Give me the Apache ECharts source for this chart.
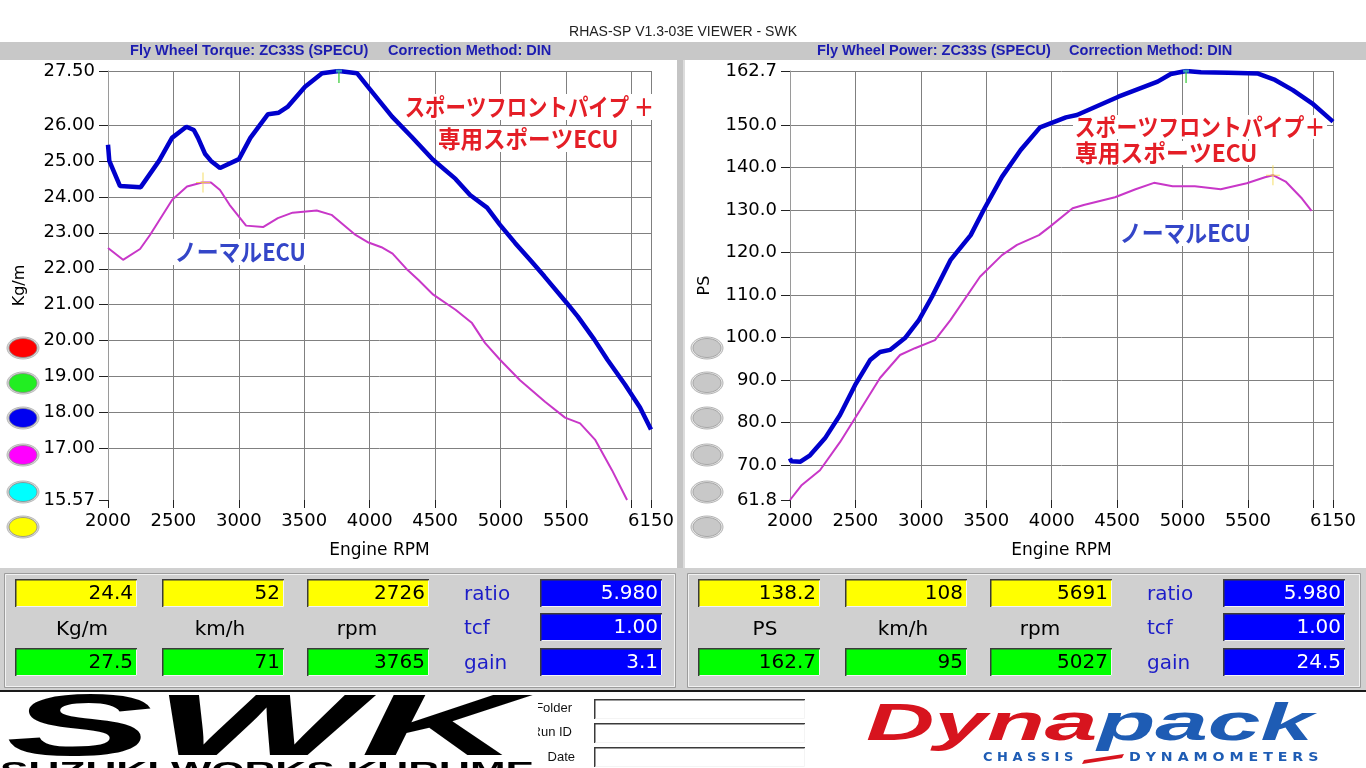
<!DOCTYPE html>
<html><head><meta charset="utf-8">
<script src="https://cdn.jsdelivr.net/npm/echarts@6/dist/echarts.min.js"></script>
<style>html,body{margin:0;padding:0;background:#fff;overflow:hidden}#c{width:1366px;height:768px}</style>
</head><body><div id="c"></div>
<script>
// ---------- data ----------
const sportTorqueRpm = [2000,2010,2092,2250,2390,2489,2599,2656,2688,2741,2787,2856,3001,3088,3223,3305,3372,3506,3636,3765,3903,3987,4171,4320,4484,4656,4767,4897,4996,5111,5237,5335,5506,5591,5717,5817,5951,6066,6150];
const sportTorque    = [25.45,25.0,24.3,24.27,25.0,25.64,25.95,25.86,25.64,25.2,25.0,24.8,25.05,25.64,26.3,26.34,26.5,27.06,27.44,27.5,27.44,27.06,26.23,25.67,25.03,24.5,24.05,23.7,23.22,22.72,22.2,21.79,21.05,20.67,20.03,19.47,18.78,18.14,17.53];
const normalTorqueRpm = [2000,2115,2245,2321,2491,2604,2718,2787,2856,2929,3055,3185,3298,3411,3595,3708,3892,3991,4090,4175,4288,4373,4486,4656,4782,4881,4996,5149,5340,5493,5608,5722,5852,5967];
const normalTorque    = [22.58,22.25,22.55,22.94,23.92,24.29,24.4,24.4,24.19,23.78,23.2,23.16,23.41,23.56,23.62,23.5,22.94,22.73,22.6,22.42,21.97,21.69,21.28,20.86,20.49,19.94,19.47,18.9,18.3,17.86,17.7,17.25,16.4,15.57];
const sportPowerRpm = [2000,2010,2080,2153,2267,2382,2497,2612,2688,2764,2879,2985,3085,3226,3381,3480,3620,3763,3911,4109,4193,4510,4810,4910,5027,5141,5350,5577,5707,5843,5990,6150];
const sportPower    = [71.6,70.9,70.8,72.3,76.3,81.8,88.8,94.7,96.6,97.1,99.9,104.1,109.6,118.2,124.1,130.0,137.8,144.1,149.45,151.8,152.35,156.65,160.2,162.0,162.7,162.4,162.3,162.1,160.6,158.2,155.1,150.8];
const normalPowerRpm = [2000,2086,2229,2382,2535,2688,2841,2955,3108,3226,3452,3620,3735,3903,3987,4160,4245,4484,4641,4782,4924,5094,5292,5491,5630,5691,5788,5913,5986];
const normalPower    = [61.8,65.2,68.8,75.4,82.9,90.5,95.9,97.5,99.4,104.1,114.3,119.4,121.8,124.1,126.1,130.4,131.2,133.0,134.9,136.4,135.6,135.6,134.9,136.3,137.7,138.2,136.7,132.7,129.8];

// cursor points (from the readouts)
const torqueCursorNormal = [2726, 24.4];
const torqueCursorSport  = [3765, 27.5];
const powerCursorNormal  = [5691, 138.2];
const powerCursorSport   = [5027, 162.7];

// tick labels
const rpmLabels = [2000,2500,3000,3500,4000,4500,5000,5500,6150];
const torqueLabels = [15.57,17,18,19,20,21,22,23,24,25,26,27.5];
const powerLabels = [61.8,70,80,90,100,110,120,130,140,150,162.7];

// readout texts
const leftTop = ['24.4','52','2726'];
const leftBottom = ['27.5','71','3765'];
const leftUnits = ['Kg/m','km/h','rpm'];
const leftParams = ['5.980','1.00','3.1'];
const rightTop = ['138.2','108','5691'];
const rightBottom = ['162.7','95','5027'];
const rightUnits = ['PS','km/h','rpm'];
const rightParams = ['5.980','1.00','24.5'];
const paramNames = ['ratio','tcf','gain'];

const zip = (a,b) => a.map((v,i)=>[v,b[i]]);
const has = (arr,v) => arr.some(l => Math.abs(l - v) < 1e-6);

// ---------- graphic helpers ----------
const G = [];
function rect(x,y,w,h,fill,z,stroke,lw){ G.push({type:'rect', z:z, silent:true, shape:{x:x,y:y,width:w,height:h}, style:{fill:fill, stroke:stroke||null, lineWidth:lw||0}}); }
function pline(pts,stroke,lw,z){ G.push({type:'polyline', z:z, silent:true, shape:{points:pts}, style:{stroke:stroke, lineWidth:lw, fill:'none'}}); }
function txt(x,y,text,o){
  const st = {text:text, fontSize:o.size, fontFamily:o.family||'"Liberation Sans"', fontWeight:o.weight||'normal', fontStyle:o.fstyle||'normal', fill:o.color||'#000',
    align:o.align||'left', verticalAlign:o.va||'middle', textAlign:o.align||'left', textVerticalAlign:o.va||'middle'};
  if (o.bg) { st.backgroundColor = o.bg; st.padding = o.pad || [1,3]; }
  if (o.rich) st.rich = o.rich;
  G.push({type:'text', x:x, y:y, z:(o.z!=null?o.z:5), scaleX:o.scaleX||1, silent:true, style:st});
}
function sunken(x,y,w,h,fill){
  rect(x,y,w,h,fill,2);
  pline([[x+0.75,y+h],[x+0.75,y+0.75],[x+w,y+0.75]],'#3a3a3a',1.5,3);
  pline([[x+w-0.5,y+1.5],[x+w-0.5,y+h-0.5],[x+1.5,y+h-0.5]],'#f4f4f4',1,3);
}

// backgrounds
rect(0,0,1366,42,'#ffffff',-10);
rect(0,42,1366,18,'#c8c8c8',-10);
rect(0,60,1366,508,'#c4c4c4',-10);
rect(0,60,677,508,'#ffffff',-9);
rect(683,60,683,508,'#ffffff',-9);
pline([[684,60],[684,568]],'#dcdcdc',2,-8);
rect(0,568,1366,123,'#d0d0d0',-10);
rect(4.5,573.5,671,114,'none',-8,'#9c9c9c',1);
rect(5.5,574.5,669,112,'none',-8,'#f2f2f2',1);
rect(687.5,573.5,673,114,'none',-8,'#9c9c9c',1);
rect(688.5,574.5,671,112,'none',-8,'#f2f2f2',1);
rect(0,691,1366,77,'#ffffff',-10);
pline([[0,691],[1366,691]],'#1a1a1a',2,-7);

// title + headers
txt(683,32,'RHAS-SP V1.3-03E VIEWER - SWK',{size:14,color:'#222',align:'center'});
const hdr = {size:14,weight:'bold',color:'#1c1cb0',scaleX:1.04};
txt(130,51,'Fly Wheel Torque: ZC33S (SPECU)',hdr);
txt(388,51,'Correction Method: DIN',hdr);
txt(817,51,'Fly Wheel Power: ZC33S (SPECU)',hdr);
txt(1069,51,'Correction Method: DIN',hdr);

// legend ellipses
const leftDots = ['#ff0000','#22ee22','#0000f0','#ff00ff','#00ffff','#ffff00'];
const dotY = [348,383,418,455,492,527];
dotY.forEach((y,i)=>{
  G.push({type:'ellipse', z:1, silent:true, shape:{cx:23,cy:y,rx:16,ry:11}, style:{fill:'#d8d8d8', stroke:'#b8b8b8', lineWidth:1}});
  G.push({type:'ellipse', z:2, silent:true, shape:{cx:23,cy:y,rx:14,ry:9.5}, style:{fill:leftDots[i], stroke:'#888', lineWidth:0.8}});
  G.push({type:'ellipse', z:1, silent:true, shape:{cx:707,cy:y,rx:16,ry:11}, style:{fill:'#e6e6e6', stroke:'#b4b4b4', lineWidth:1}});
  G.push({type:'ellipse', z:2, silent:true, shape:{cx:707,cy:y,rx:14,ry:9.5}, style:{fill:'#c8c8c8', stroke:'#9a9a9a', lineWidth:0.8}});
});

// readouts
function readouts(ox, top, bottom, units, params){
  const bx = [15,162,307];
  bx.forEach((x,i)=>{
    sunken(ox+x,579,122,28,'#ffff00');
    txt(ox+x+118,593.5,top[i],{size:20,family:'"DejaVu Sans"',align:'right'});
    sunken(ox+x,648,122,28,'#00ff00');
    txt(ox+x+118,662.5,bottom[i],{size:20,family:'"DejaVu Sans"',align:'right'});
  });
  const ux = [82,220,357];
  units.forEach((u,i)=>txt(ox+ux[i],630,u,{size:20,family:'"DejaVu Sans"',align:'center'}));
  const py = [579,613,648];
  paramNames.forEach((p,i)=>{
    txt(ox+464,py[i]+16,p,{size:20,family:'"DejaVu Sans"',color:'#1c1cc8'});
    sunken(ox+540,py[i],122,28,'#0000ff');
    txt(ox+658,py[i]+14.5,params[i],{size:20,family:'"DejaVu Sans"',color:'#ffffff',align:'right'});
  });
}
readouts(0,leftTop,leftBottom,leftUnits,leftParams);
readouts(683,rightTop,rightBottom,rightUnits,rightParams);

// annotations
const red = '#e41e26', blu = '#3446c8';
const jp = '"Noto Sans CJK JP"';
txt(403,107,'スポーツフロントパイプ ＋',{size:24,weight:'bold',family:jp,color:red,bg:'#fff',pad:[1,2],scaleX:0.85,z:1});
txt(436,139,'専用スポーツECU',{size:24,weight:'bold',family:jp,color:red,bg:'#fff',pad:[1,2],scaleX:0.94,z:1});
txt(173,252,'ノーマルECU',{size:24,weight:'bold',family:jp,color:blu,bg:'#fff',pad:[1,2],scaleX:0.91,z:1});
txt(1073,127,'スポーツフロントパイプ＋',{size:24,weight:'bold',family:jp,color:red,bg:'#fff',pad:[0,2],scaleX:0.87,z:1});
txt(1073,153,'専用スポーツECU',{size:24,weight:'bold',family:jp,color:red,bg:'#fff',pad:[0,2],scaleX:0.95,z:1});
txt(1118,233,'ノーマルECU',{size:24,weight:'bold',family:jp,color:blu,bg:'#fff',pad:[1,2],scaleX:0.91,z:1});

// bottom strip: form fields
txt(572,708,'Folder',{size:13,align:'right',color:'#111'});
txt(572,732,'Run ID',{size:13,align:'right',color:'#111'});
txt(575,757,'Date',{size:13,align:'right',color:'#111'});
[699,723,747].forEach(y=>{ sunken(594,y,211,20,'#ffffff'); });
// SWK logo (white backing covers part of the field labels)
rect(0,692,538,76,'#ffffff',6);
txt(6,731,'SWK',{size:88,weight:'bold',fstyle:'italic',scaleX:2.5,color:'#000',z:7});
txt(0,760,'SUZUKI WORKS KURUME',{size:24,weight:'bold',va:'top',scaleX:1.78,color:'#000',z:7});
// Dynapack logo
G.push({type:'polygon', z:4, silent:true, shape:{points:[[1084,760],[1124,754],[1122,758],[1082,764]]}, style:{fill:'#d7141e'}});
const dynFont = {fontSize:52,fontWeight:'bold',fontStyle:'italic',fontFamily:'"Liberation Sans"'};
txt(866,726,'{r|Dyna}{b|pack}',{size:52,weight:'bold',fstyle:'italic',scaleX:1.82,z:5,
  rich:{r:Object.assign({fill:'#d7141e',textShadowColor:'#1e5cb4',textShadowOffsetX:1,textShadowOffsetY:4,textShadowBlur:0},dynFont),
        b:Object.assign({fill:'#1e5cb4',textShadowColor:'#d7141e',textShadowOffsetX:1,textShadowOffsetY:4,textShadowBlur:0},dynFont)}});
txt(983,758,'C H A S S I S',{size:12,weight:'bold',family:'"DejaVu Sans"',color:'#1e5cb4',scaleX:1.08});
txt(1129,758,'D Y N A M O M E T E R S',{size:12,weight:'bold',family:'"DejaVu Sans"',color:'#1e5cb4',scaleX:1.18});

// ---------- chart ----------
const axisFontY = {fontSize:18, fontFamily:'"DejaVu Sans"', color:'#000'};
function xAxis(i){
  return {type:'value', gridIndex:i, min:2000, max:6150, interval:500,
    name:'Engine RPM', nameLocation:'middle', nameGap:42, nameTextStyle:{fontSize:17,fontFamily:'"DejaVu Sans"',color:'#000'},
    axisLine:{show:false}, axisTick:{show:true,length:8,lineStyle:{color:'#222'}},
    axisLabel:{margin:12, fontSize:18, fontFamily:'"DejaVu Sans"', color:'#000', showMaxLabel:true, showMinLabel:true,
      formatter:v=> has(rpmLabels,v) ? String(v) : ''},
    splitLine:{show:true, lineStyle:{color:'#808080',width:1}}};
}
function yAxis(i,min,max,step,labels,dec,name,gap){
  return {type:'value', gridIndex:i, min:min, max:max, splitNumber:Math.round((max-min)/step), minInterval:step, maxInterval:step,
    name:name, nameLocation:'middle', nameGap:gap, nameRotate:90, nameTextStyle:{fontSize:16,fontFamily:'"DejaVu Sans"',color:'#000'},
    axisLine:{show:true,lineStyle:{color:'#9a9a9a',width:1}},
    axisTick:{show:true,length:9,lineStyle:{color:'#222'},customValues:labels},
    axisLabel:Object.assign({margin:13, showMaxLabel:true, showMinLabel:true, customValues:labels,
      formatter:v=> has(labels,v) ? v.toFixed(dec) : ''}, axisFontY),
    splitLine:{show:true, showMinLine:false, lineStyle:{color:'#808080',width:1}}};
}
const plusPath = 'path://M6.5,0h1v20h-1z M0,9.5h14v1h-14z';
function cursorSeries(xi, normalPt, sportPt){
  return [
    {type:'scatter', xAxisIndex:xi, yAxisIndex:xi, z:5, silent:true, data:[normalPt], symbol:plusPath, symbolSize:[14,20], itemStyle:{color:'#f2d640'}},
    {type:'scatter', xAxisIndex:xi, yAxisIndex:xi, z:5, silent:true, data:[sportPt], symbol:'rect', symbolSize:[1.5,12], symbolOffset:[0,6], itemStyle:{color:'#30c830'}},
    {type:'scatter', xAxisIndex:xi, yAxisIndex:xi, z:5, silent:true, data:[sportPt], symbol:'rect', symbolSize:[6,3], itemStyle:{color:'#40b8c0'}}
  ];
}
const option = {
  animation:false,
  backgroundColor:'#ffffff',
  grid:[{left:108, top:71, width:543, height:429}, {left:790, top:71, width:543, height:429}],
  xAxis:[xAxis(0), xAxis(1)],
  yAxis:[yAxis(0,15.57,27.5,1,torqueLabels,2,'Kg/m',80), yAxis(1,61.8,162.7,10,powerLabels,1,'PS',77)],
  series:[
    {type:'line', xAxisIndex:0, yAxisIndex:0, z:3, data:zip(normalTorqueRpm,normalTorque), showSymbol:false, lineStyle:{color:'#c837c8',width:2}},
    {type:'line', xAxisIndex:0, yAxisIndex:0, z:3, data:zip(sportTorqueRpm,sportTorque), showSymbol:false, lineStyle:{color:'#0000cc',width:4.5}},
    {type:'line', xAxisIndex:1, yAxisIndex:1, z:3, data:zip(normalPowerRpm,normalPower), showSymbol:false, lineStyle:{color:'#c837c8',width:2}},
    {type:'line', xAxisIndex:1, yAxisIndex:1, z:3, data:zip(sportPowerRpm,sportPower), showSymbol:false, lineStyle:{color:'#0000cc',width:4.5}}
  ].concat(cursorSeries(0,torqueCursorNormal,torqueCursorSport), cursorSeries(1,powerCursorNormal,powerCursorSport)),
  graphic:{elements:G}
};
const chart = echarts.init(document.getElementById('c'), null, {renderer:'canvas'});
chart.setOption(option);
</script></body></html>
